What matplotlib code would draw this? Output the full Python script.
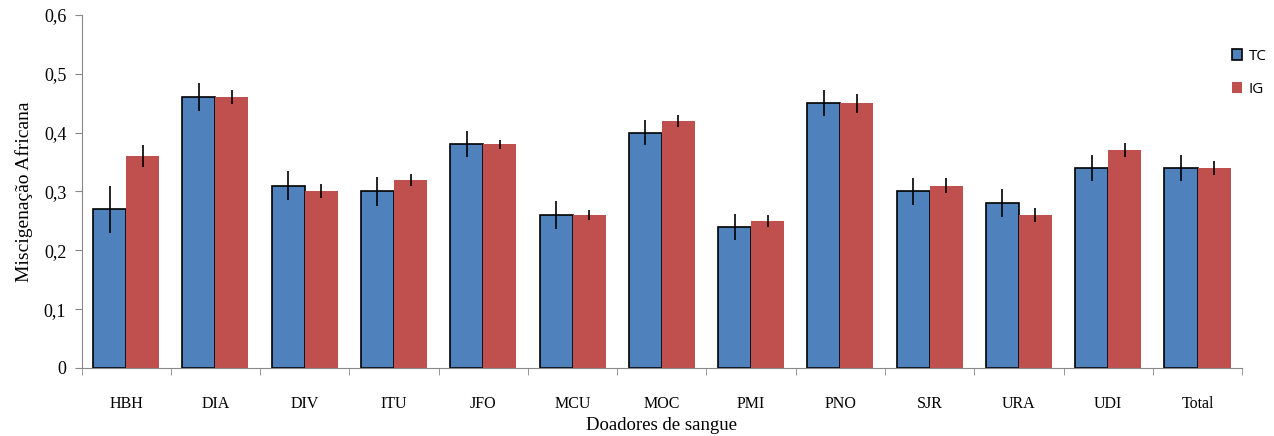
import numpy as np
import matplotlib.pyplot as plt

# data
grupos = ["HBH", "DIA", "DIV", "ITU", "JFO", "MCU", "MOC", "PMI", "PNO", "SJR", "URA", "UDI", "Total"]
tc = [0.27, 0.46, 0.31, 0.30, 0.38, 0.26, 0.40, 0.24, 0.45, 0.30, 0.28, 0.34, 0.34]
tc_err = [0.040, 0.024, 0.025, 0.024, 0.022, 0.024, 0.022, 0.022, 0.022, 0.023, 0.024, 0.022, 0.022]
ig = [0.36, 0.46, 0.30, 0.32, 0.38, 0.26, 0.42, 0.25, 0.45, 0.31, 0.26, 0.37, 0.34]
ig_err = [0.019, 0.012, 0.012, 0.010, 0.008, 0.008, 0.010, 0.010, 0.016, 0.013, 0.012, 0.012, 0.012]
yticks = [0, 0.1, 0.2, 0.3, 0.4, 0.5, 0.6]
ytick_labels = ["0", "0,1", "0,2", "0,3", "0,4", "0,5", "0,6"]

fig = plt.figure(figsize=(12.74, 4.36), dpi=100)
ax = fig.add_axes([0.064, 0.156, 0.911, 0.81])

x = np.arange(len(grupos))
w = 0.37
ax.bar(x - w/2, tc, w, color="#4f81bd", edgecolor="black", linewidth=1.2,
       yerr=tc_err, error_kw=dict(ecolor="black", elinewidth=1.2, capsize=0), label="TC", zorder=2)
ax.bar(x + w/2, ig, w, color="#c0504d", edgecolor="none",
       yerr=ig_err, error_kw=dict(ecolor="black", elinewidth=1.2, capsize=0), label="IG", zorder=2)

ax.set_xlim(-0.5, len(grupos) - 0.5)
ax.set_ylim(0, 0.6)
ax.set_yticks(yticks)
ax.set_yticklabels(ytick_labels, fontsize=13, family="Liberation Serif")
ax.set_xticks(x)
ax.set_xticklabels(grupos, fontsize=11.5, family="Liberation Serif")
ax.set_xticks(np.arange(len(grupos) + 1) - 0.5, minor=True)
ax.tick_params(axis="x", which="major", length=0, pad=20)
ax.tick_params(axis="x", which="minor", length=5, color="#888888")
ax.tick_params(axis="y", length=5, color="#888888", pad=6)

for s in ["top", "right"]:
    ax.spines[s].set_visible(False)
ax.spines["left"].set_color("#888888")
ax.spines["bottom"].set_color("#888888")

ax.set_xlabel("Doadores de sangue", fontsize=13.5, family="Liberation Serif", labelpad=4)
ax.set_ylabel("Miscigenação Africana", fontsize=14, family="Liberation Serif", labelpad=8)

leg = fig.legend(loc="upper left", bbox_to_anchor=(0.956, 0.92), frameon=False,
                 handlelength=0.7, handleheight=0.7, labelspacing=1.2, handletextpad=0.4,
                 prop={"family": "Open Sans", "size": 11})

fig.savefig("out.png", dpi=100)
